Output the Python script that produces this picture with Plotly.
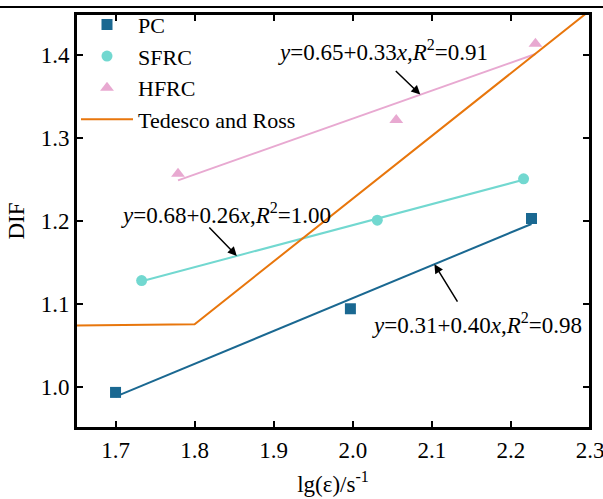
import numpy as np
import plotly.graph_objects as go

# Data
pc_x = [1.700, 1.997, 2.226]
pc_y = [0.993, 1.094, 1.203]
sfrc_x = [1.733, 2.031, 2.216]
sfrc_y = [1.128, 1.201, 1.251]
hfrc_x = [1.779, 2.055, 2.231]
hfrc_y = [1.257, 1.322, 1.414]
tr_x = [1.65, 1.80, 2.30]
tr_y = [1.0739, 1.0754, 1.4544]

x_ticks = [1.7, 1.8, 1.9, 2.0, 2.1, 2.2, 2.3]
y_ticks = [1.0, 1.1, 1.2, 1.3, 1.4]

eq_pc = "<i>y</i>=0.31+0.40<i>x</i>,<i>R</i><sup>2</sup>=0.98"
eq_sfrc = "<i>y</i>=0.68+0.26<i>x</i>,<i>R</i><sup>2</sup>=1.00"
eq_hfrc = "<i>y</i>=0.65+0.33<i>x</i>,<i>R</i><sup>2</sup>=0.91"

C_PC = "#1a6891"
C_SF = "#72d8d0"
C_HF = "#e8a9d1"
C_TR = "#e8760c"
FONT = "Liberation Serif, Times New Roman, serif"

fig = go.Figure()

def fit_line(xs, ys):
    b, a = np.polyfit(xs, ys, 1)
    xx = np.array([min(xs), max(xs)])
    return xx, a + b * xx

for xs, ys, c in [(pc_x, pc_y, C_PC), (sfrc_x, sfrc_y, C_SF), (hfrc_x, hfrc_y, C_HF)]:
    fx, fy = fit_line(xs, ys)
    fig.add_trace(go.Scatter(x=fx, y=fy, mode="lines", line=dict(color=c, width=2),
                             showlegend=False, hoverinfo="skip"))

fig.add_trace(go.Scatter(x=pc_x, y=pc_y, mode="markers", name="PC",
                         marker=dict(symbol="square", size=11, color=C_PC)))
fig.add_trace(go.Scatter(x=sfrc_x, y=sfrc_y, mode="markers", name="SFRC",
                         marker=dict(symbol="circle", size=11, color=C_SF)))
fig.add_trace(go.Scatter(x=hfrc_x, y=hfrc_y, mode="markers", name="HFRC",
                         marker=dict(symbol="triangle-up", size=12, color=C_HF)))
fig.add_trace(go.Scatter(x=tr_x, y=tr_y, mode="lines", name="Tedesco and Ross",
                         line=dict(color=C_TR, width=2)))

# equation texts
for txt, x, y in [(eq_hfrc, 2.0386, 1.4057), (eq_sfrc, 1.8399, 1.2093), (eq_pc, 2.1576, 1.0767)]:
    fig.add_annotation(x=x, y=y, text=txt, showarrow=False,
                       font=dict(family=FONT, size=23, color="black"))

# arrows
for x, y, ax, ay in [(2.0854, 1.3527, -26, -25), (1.8534, 1.1578, -29, -30), (2.1032, 1.1478, 24, 39)]:
    fig.add_annotation(x=x, y=y, text="", showarrow=True, ax=ax, ay=ay,
                       arrowhead=2, arrowsize=1.2, arrowwidth=1.5, arrowcolor="black")

# top border line
fig.add_shape(type="line", xref="paper", yref="paper",
              x0=-76/514, x1=(603-76)/514, y0=1 + 7/414, y1=1 + 7/414,
              line=dict(color="black", width=2))
# plot frame
fig.add_shape(type="rect", xref="paper", yref="paper", x0=0, x1=1, y0=0, y1=1,
              line=dict(color="black", width=2), layer="above")

axis_common = dict(showline=True, linecolor="black", linewidth=2, mirror="ticks",
                   ticks="inside", ticklen=7, tickwidth=2, tickcolor="black",
                   showgrid=False, zeroline=False, automargin=False,
                   ticklabeloverflow="allow",
                   tickfont=dict(family=FONT, size=23, color="black"))

fig.update_xaxes(range=[1.65, 2.30], tickvals=x_ticks, ticktext=[f"{v:.1f}" for v in x_ticks],
                 title=dict(text="lg(ε)/s<sup>-1</sup>", font=dict(family=FONT, size=23, color="black"),
                            standoff=14),
                 **axis_common)
fig.update_yaxes(range=[0.95, 1.45], tickvals=y_ticks, ticktext=[f"{v:.1f}" for v in y_ticks],
                 title=dict(text="DIF", font=dict(family=FONT, size=23, color="black"), standoff=10),
                 **axis_common)

fig.update_layout(
    width=603, height=499,
    margin=dict(l=76, r=13, t=14, b=71, autoexpand=False),
    plot_bgcolor="white", paper_bgcolor="white",
    font=dict(family=FONT, size=22, color="black"),
    legend=dict(x=0.0, y=1.025, xanchor="left", yanchor="top",
                bgcolor="rgba(0,0,0,0)", borderwidth=0,
                font=dict(family=FONT, size=22, color="black"),
                itemwidth=52, tracegroupgap=0),
)

fig.write_html("out.html", config={"displayModeBar": False},
               post_script="document.body.style.margin='0px';document.body.style.overflow='hidden';"
                           "document.documentElement.style.overflow='hidden';")
